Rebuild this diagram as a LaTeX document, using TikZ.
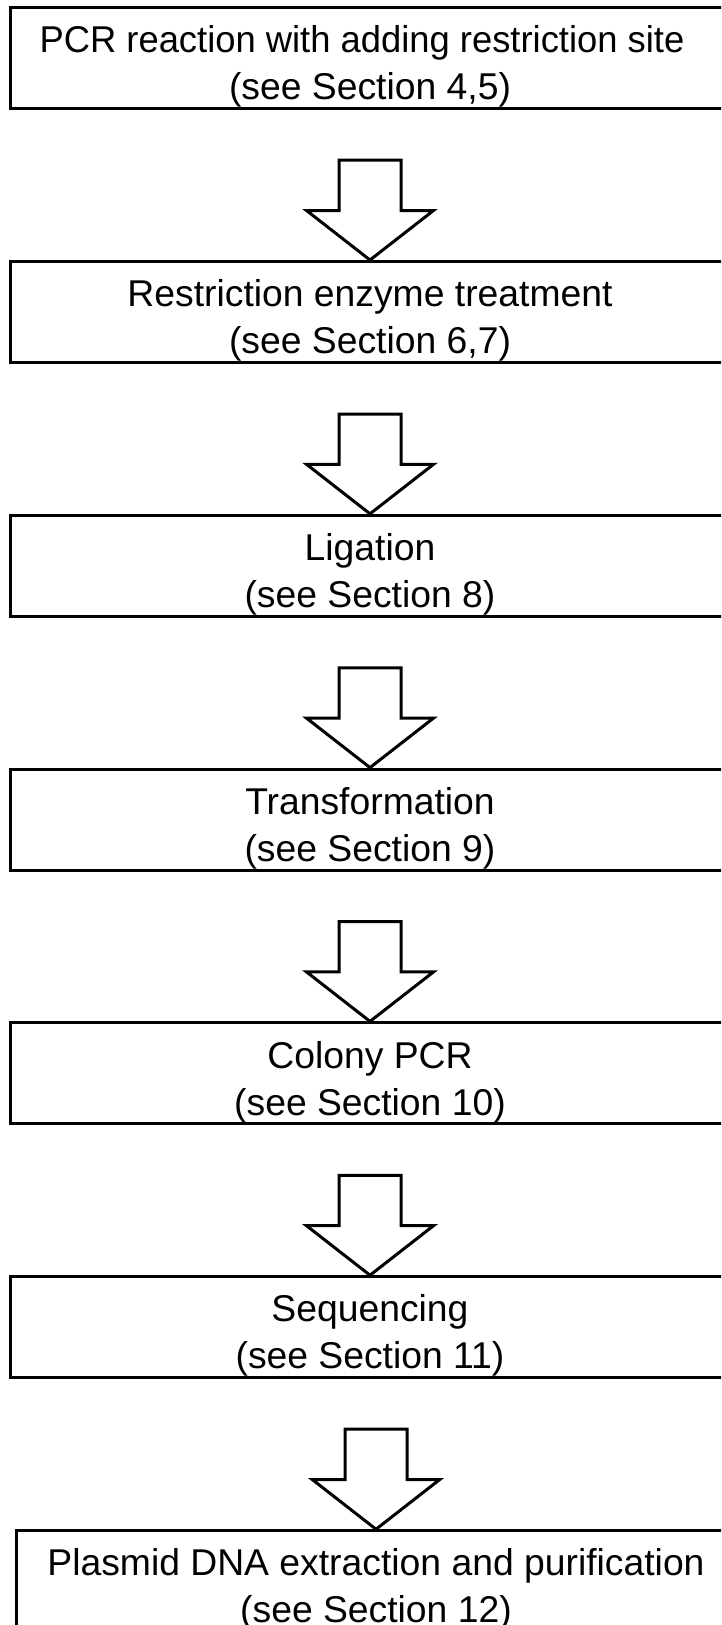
\documentclass[tikz,border=0pt]{standalone}
\usepackage{graphicx}
\usepackage{fontspec}
\setmainfont{Liberation Sans}
\usetikzlibrary{calc}

% taller first line, to set the text a little lower in its box
\newcommand{\topstrut}{\rule{0pt}{44pt}}

% block arrow from the box #1 down to the box #2
\newcommand{\blockarrow}[2]{%
  \path (#2.north |- #1.south) ++(0,-50) coordinate (#1-top);
  \draw[flowarrow] (#2.north) -- ++(-63.5,49.5) -- ++(32.5,0)
    |- ($(#1-top)+(31,0)$) -- ($(#2.north)+(31,49.5)$) -- ++(32.5,0) -- cycle;}

\begin{document}
\begin{tikzpicture}[x=1pt,y=1pt,
    stepbox/.style={draw,line width=3pt,minimum width=718.6pt,minimum height=101pt,
      inner sep=0pt,align=center,font=\fontsize{37.3}{47}\selectfont},
    flowarrow/.style={line width=3pt,line join=miter}]

\useasboundingbox (0,0) rectangle (721,-1625);
\clip (0,0) rectangle (721,-1625);

\node[stepbox] (pcr) at (370,-58.2) {\topstrut\scalebox{0.975}[1]{PCR reaction with adding restriction site}\hspace*{16pt}\\(see Section 4,5)};
\node[stepbox] (digest) at (370,-312) {\topstrut Restriction enzyme treatment\\(see Section 6,7)};
\node[stepbox] (ligation) at (370,-565.8) {\topstrut Ligation\\(see Section 8)};
\node[stepbox] (transform) at (370,-819.6) {\topstrut Transformation\\(see Section 9)};
\node[stepbox] (colony) at (370,-1073.4) {\topstrut Colony PCR\\(see Section 10)};
\node[stepbox] (sequencing) at (370,-1327.2) {\topstrut Sequencing\\(see Section 11)};
\node[stepbox,minimum width=720pt] (plasmid) at (376,-1581.2) {\topstrut Plasmid DNA extraction and purification\\(see Section 12)};

\blockarrow{pcr}{digest}
\blockarrow{digest}{ligation}
\blockarrow{ligation}{transform}
\blockarrow{transform}{colony}
\blockarrow{colony}{sequencing}
\blockarrow{sequencing}{plasmid}

\end{tikzpicture}
\end{document}
